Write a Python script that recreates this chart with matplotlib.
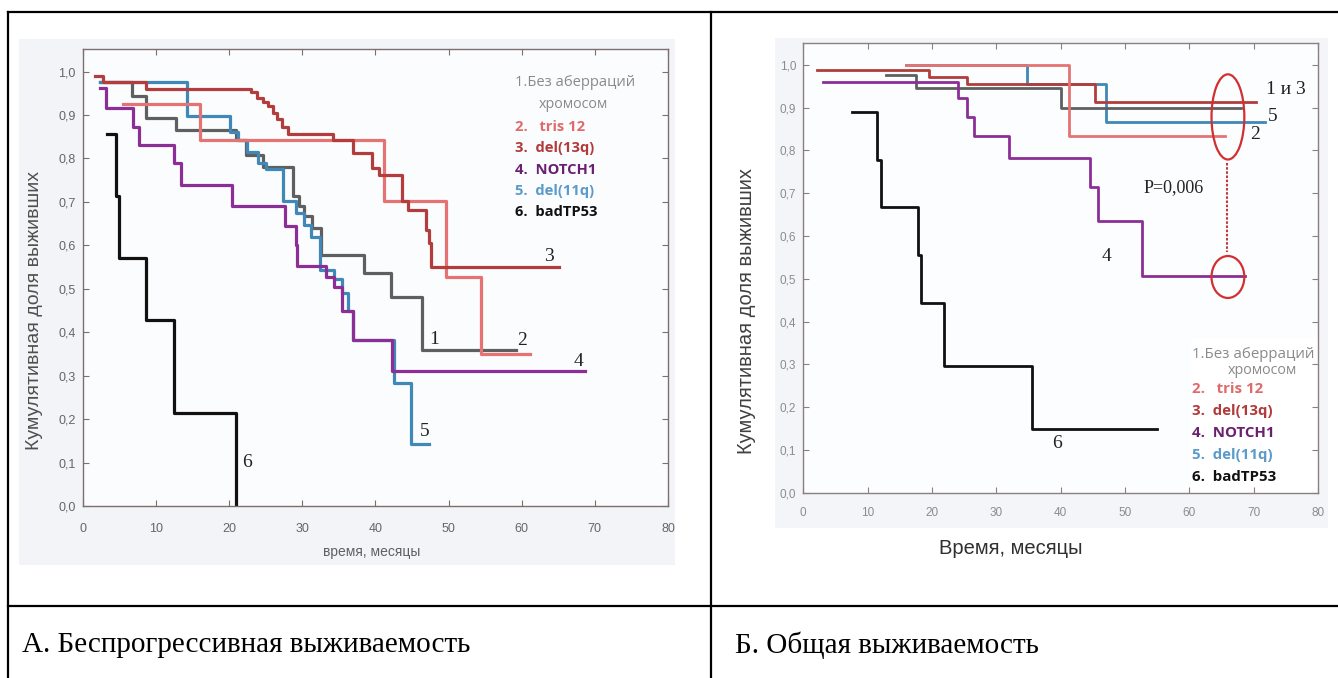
import matplotlib.pyplot as plt
from matplotlib.patches import Rectangle, Ellipse
from matplotlib.lines import Line2D

W, H = 1338, 678

# A. progression-free survival: time (months) and cumulative share surviving
pfs_none_t = [2.3, 6.7, 8.7, 12.7, 21.0, 22.3, 24.6, 28.7, 29.5, 30.3, 31.4, 32.6, 38.5, 42.1, 46.4, 59.2]
pfs_none_s = [0.976, 0.943, 0.893, 0.866, 0.843, 0.809, 0.780, 0.713, 0.690, 0.667, 0.640, 0.578, 0.536, 0.482, 0.359, 0.359]
pfs_tris12_t = [5.5, 16.0, 41.2, 49.7, 54.4, 61.2]
pfs_tris12_s = [0.926, 0.842, 0.701, 0.527, 0.350, 0.350]
pfs_del13q_t = [1.7, 2.8, 8.7, 23.0, 23.8, 24.6, 25.3, 26.0, 26.6, 27.3, 28.0, 34.2, 36.9, 39.6, 40.5,
                43.7, 44.4, 46.9, 47.3, 47.6, 65.1]
pfs_del13q_s = [0.990, 0.976, 0.960, 0.953, 0.939, 0.929, 0.920, 0.905, 0.890, 0.872, 0.857, 0.843, 0.812, 0.778, 0.763,
                0.701, 0.682, 0.636, 0.606, 0.551, 0.551]
pfs_notch1_t = [2.3, 3.2, 6.9, 7.7, 12.45, 13.5, 20.4, 27.6, 29.1, 29.3, 33.3, 34.4, 35.5, 36.9, 42.3, 68.7]
pfs_notch1_s = [0.962, 0.916, 0.873, 0.830, 0.790, 0.740, 0.690, 0.645, 0.600, 0.553, 0.527, 0.505, 0.450, 0.382, 0.310, 0.310]
pfs_del11q_t = [2.3, 14.2, 20.1, 21.2, 22.4, 24.0, 25.1, 27.4, 29.2, 30.3, 31.2, 32.4, 34.4, 35.5, 36.2, 37.0, 42.6, 44.9, 47.4]
pfs_del11q_s = [0.976, 0.897, 0.862, 0.843, 0.816, 0.790, 0.776, 0.701, 0.674, 0.647, 0.619, 0.544, 0.523, 0.490, 0.450, 0.382, 0.283, 0.143, 0.143]
pfs_tp53_t = [3.3, 4.5, 5.0, 8.6, 12.5, 21.0]
pfs_tp53_s = [0.857, 0.714, 0.571, 0.429, 0.214, 0.0]

# Б. overall survival
os_none_t = [12.8, 17.5, 40.0, 68.1]
os_none_s = [0.975, 0.946, 0.899, 0.899]
os_tris12_t = [16.0, 41.3, 65.5]
os_tris12_s = [1.0, 0.834, 0.834]
os_del13q_t = [2.1, 19.6, 25.5, 45.4, 70.4]
os_del13q_s = [0.987, 0.972, 0.955, 0.912, 0.912]
os_notch1_t = [3.1, 24.1, 25.5, 26.6, 32.0, 44.6, 45.8, 52.6, 68.6]
os_notch1_s = [0.960, 0.922, 0.878, 0.834, 0.783, 0.714, 0.634, 0.507, 0.507]
os_del11q_t = [16.0, 34.8, 47.0, 71.7]
os_del11q_s = [1.0, 0.956, 0.867, 0.867]
os_tp53_t = [7.5, 11.4, 12.1, 17.8, 18.3, 21.9, 35.6, 55.0]
os_tp53_s = [0.889, 0.778, 0.667, 0.556, 0.444, 0.296, 0.148, 0.148]

legend_lines = ['2.   tris 12', '3.  del(13q)', '4.  NOTCH1', '5.  del(11q)', '6.  badTP53']
c_none, c_tris, c_del13, c_notch, c_del11, c_tp53 = '#5f5f5f', '#e57373', '#b33c3c', '#8b2f96', '#3f88b8', '#111111'
leg_colors = ['#e06a6a', '#b23a3a', '#6a1f70', '#5b9bc9', '#111111']

fig = plt.figure(figsize=(W / 100, H / 100), dpi=100)


def fx(x):
    return x / W


def fy(y):
    return 1 - y / H


def frame(ax, spine_col, tick_col, fs, xpad, ypad):
    ax.set_xlim(0, 80)
    ax.set_xticks(range(0, 81, 10))
    ax.set_yticks([i / 10 for i in range(11)])
    ax.set_yticklabels([('%.1f' % (i / 10)).replace('.', ',') for i in range(11)])
    for sp in ax.spines.values():
        sp.set_color(spine_col)
        sp.set_linewidth(1.0)
    ax.tick_params(direction='in', length=4, color=spine_col, top=True, right=True,
                   labelcolor=tick_col, labelsize=fs)
    ax.tick_params(axis='x', pad=xpad)
    ax.tick_params(axis='y', pad=ypad)
    for lab in ax.get_xticklabels() + ax.get_yticklabels():
        lab.set_family('Liberation Sans')


# grey picture backgrounds
fig.patches.append(Rectangle((fx(19), fy(565)), (675 - 19) / W, (565 - 39) / H, transform=fig.transFigure,
                             facecolor='#f2f4f7', edgecolor='none', zorder=-5))
fig.patches.append(Rectangle((fx(775), fy(528)), (1328 - 775) / W, (528 - 38) / H, transform=fig.transFigure,
                             facecolor='#f3f5f8', edgecolor='none', zorder=-5))

# ---------- left panel ----------
ax1 = fig.add_axes([fx(82.7), fy(506), 585.3 / W, 457 / H])
ax1.set_facecolor('#fbfcfd')
frame(ax1, '#7d6f6f', '#666666', 9, 12, 5)
ax1.set_ylim(0, 1.052)
lw1 = 2.3
for t, s, c in [(pfs_none_t, pfs_none_s, c_none), (pfs_del11q_t, pfs_del11q_s, c_del11),
                (pfs_notch1_t, pfs_notch1_s, c_notch), (pfs_tris12_t, pfs_tris12_s, c_tris),
                (pfs_del13q_t, pfs_del13q_s, c_del13), (pfs_tp53_t, pfs_tp53_s, c_tp53)]:
    ax1.step(t, s, where='post', color=c, lw=lw1)

for txt, x, y in [('3', 63.7, 0.574), ('1', 48.0, 0.384), ('2', 60.0, 0.382), ('4', 67.8, 0.332),
                  ('5', 46.7, 0.171), ('6', 22.4, 0.10)]:
    ax1.text(x, y, txt, family='Liberation Serif', fontsize=14, color='#222222', ha='center', va='center')

fig.text(fx(515), fy(83), '1.Без аберраций', family=['Open Sans', 'DejaVu Sans'], fontsize=10.6,
         color='#8a8a8a', va='center')
fig.text(fx(573), fy(105), 'хромосом', family=['Open Sans', 'DejaVu Sans'], fontsize=10.3,
         color='#8a8a8a', va='center', ha='center')
for i, (txt, c) in enumerate(zip(legend_lines, leg_colors)):
    fig.text(fx(515), fy(127 + i * 21.3), txt, family=['Open Sans', 'DejaVu Sans'], fontsize=10.6,
             fontweight='bold', color=c, va='center')

fig.text(fx(35), fy(310), 'Кумулятивная доля выживших', rotation=90, family='Liberation Sans',
         fontsize=14, color='#505050', ha='center', va='center')
fig.text(fx(372), fy(552), 'время, месяцы', family='Liberation Sans', fontsize=10,
         color='#606060', ha='center', va='center')

# ---------- right panel ----------
ax2 = fig.add_axes([fx(803.3), fy(492.7), 514.7 / W, 449.4 / H])
ax2.set_facecolor('#fcfdfe')
frame(ax2, '#8a8080', '#8c8c8c', 8.5, 10, 5)
ax2.set_ylim(0, 1.05)
lw2 = 2.0
for t, s, c in [(os_del11q_t, os_del11q_s, c_del11), (os_none_t, os_none_s, c_none),
                (os_notch1_t, os_notch1_s, c_notch), (os_del13q_t, os_del13q_s, c_del13),
                (os_tris12_t, os_tris12_s, c_tris), (os_tp53_t, os_tp53_s, c_tp53)]:
    ax2.step(t, s, where='post', color=c, lw=lw2)

for txt, x, y in [('1 и 3', 75.0, 0.943), ('5', 73.0, 0.879), ('2', 70.2, 0.836),
                  ('4', 47.2, 0.552), ('6', 39.4, 0.116)]:
    ax2.text(x, y, txt, family='Liberation Serif', fontsize=14, color='#222222', ha='center', va='center')
ax2.text(57.5, 0.712, 'P=0,006', family='Liberation Serif', fontsize=13, color='#222222',
         ha='center', va='center')
ax2.add_patch(Ellipse((66.0, 0.878), 5.1, 0.199, fill=False, edgecolor='#d23030', lw=1.6, zorder=5))
ax2.add_patch(Ellipse((66.0, 0.504), 5.1, 0.098, fill=False, edgecolor='#d23030', lw=1.6, zorder=5))
ax2.plot([65.8, 65.8], [0.770, 0.562], color='#c03a3a', lw=1.5, ls=(0, (1.2, 0.8)))

ax2.add_patch(Rectangle((60.3, 0.0), 19.7, 0.36, facecolor='white', edgecolor='none', zorder=1))
fig.text(fx(1192), fy(355), '1.Без аберраций', family=['Open Sans', 'DejaVu Sans'], fontsize=10.8,
         color='#8a8a8a', va='center')
fig.text(fx(1262), fy(371), 'хромосом', family=['Open Sans', 'DejaVu Sans'], fontsize=10.3,
         color='#8a8a8a', va='center', ha='center')
for i, (txt, c) in enumerate(zip(legend_lines, leg_colors)):
    fig.text(fx(1192), fy(389 + i * 22), txt, family=['Open Sans', 'DejaVu Sans'], fontsize=10.8,
             fontweight='bold', color=c, va='center')

fig.text(fx(747), fy(311), 'Кумулятивная доля выживших', rotation=90, family='Liberation Sans',
         fontsize=14.5, color='#404040', ha='center', va='center')
fig.text(fx(1011), fy(548), 'Время, месяцы', family='Liberation Sans', fontsize=14.5,
         color='#303030', ha='center', va='center')

# ---------- table frame and captions ----------
for xs, ys in [([8, W], [12, 12]), ([8, 8], [12, H]), ([711, 711], [12, H]), ([8, W], [606, 606])]:
    fig.add_artist(Line2D([fx(v) for v in xs], [fy(v) for v in ys], transform=fig.transFigure,
                          color='black', lw=1.6))
fig.text(fx(22), fy(645), 'А. Беспрогрессивная выживаемость', family='Liberation Serif', fontsize=21,
         color='black', va='center')
fig.text(fx(735), fy(645), 'Б. Общая выживаемость', family='Liberation Serif', fontsize=21,
         color='black', va='center')

fig.savefig('out.png', dpi=100, facecolor='white')
